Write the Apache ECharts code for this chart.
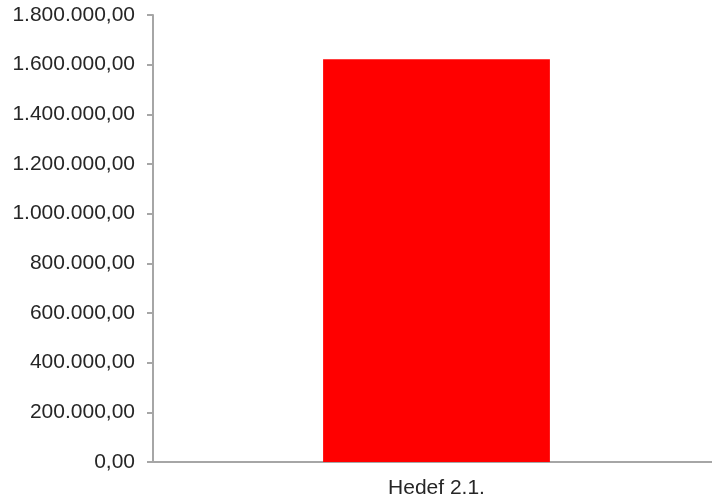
<!DOCTYPE html>
<html>
<head>
<meta charset="utf-8">
<script src="https://cdn.jsdelivr.net/npm/echarts@6/dist/echarts.min.js"></script>
<style>html,body{margin:0;padding:0;background:#fff;overflow:hidden;width:712px;height:502px;}#c{width:720px;height:502px;}</style>
</head>
<body>
<div id="c"></div>
<script>
const categories = ['Hedef 2.1.'];
const values = [1622000];
const yMin = 0, yMax = 1800000, yInterval = 200000;

function fmt(v) {
  const parts = Math.round(v).toString().replace(/\B(?=(\d{3})+(?!\d))/g, '.');
  return parts + ',00';
}

const chart = echarts.init(document.getElementById('c'), null, {renderer: 'canvas'});
chart.setOption({
  animation: false,
  backgroundColor: '#ffffff',
  grid: {left: 153, right: 0, top: 15, bottom: 40, containLabel: false},
  xAxis: {
    type: 'category',
    data: categories,
    axisLine: {lineStyle: {color: '#a6a6a6', width: 2}},
    axisTick: {show: false},
    axisLabel: {color: '#262626', fontFamily: 'Liberation Sans', fontSize: 21, margin: 16}
  },
  yAxis: {
    type: 'value',
    min: yMin, max: yMax, interval: yInterval,
    axisLine: {show: true, lineStyle: {color: '#a6a6a6', width: 2}},
    axisTick: {show: true, length: 6, lineStyle: {color: '#a6a6a6', width: 2}},
    splitLine: {show: false},
    axisLabel: {color: '#262626', fontFamily: 'Liberation Sans', fontSize: 21, margin: 18, formatter: fmt}
  },
  series: [{
    type: 'bar',
    data: values,
    barWidth: '40%',
    itemStyle: {color: '#ff0000'}
  }]
});
</script>
</body>
</html>
